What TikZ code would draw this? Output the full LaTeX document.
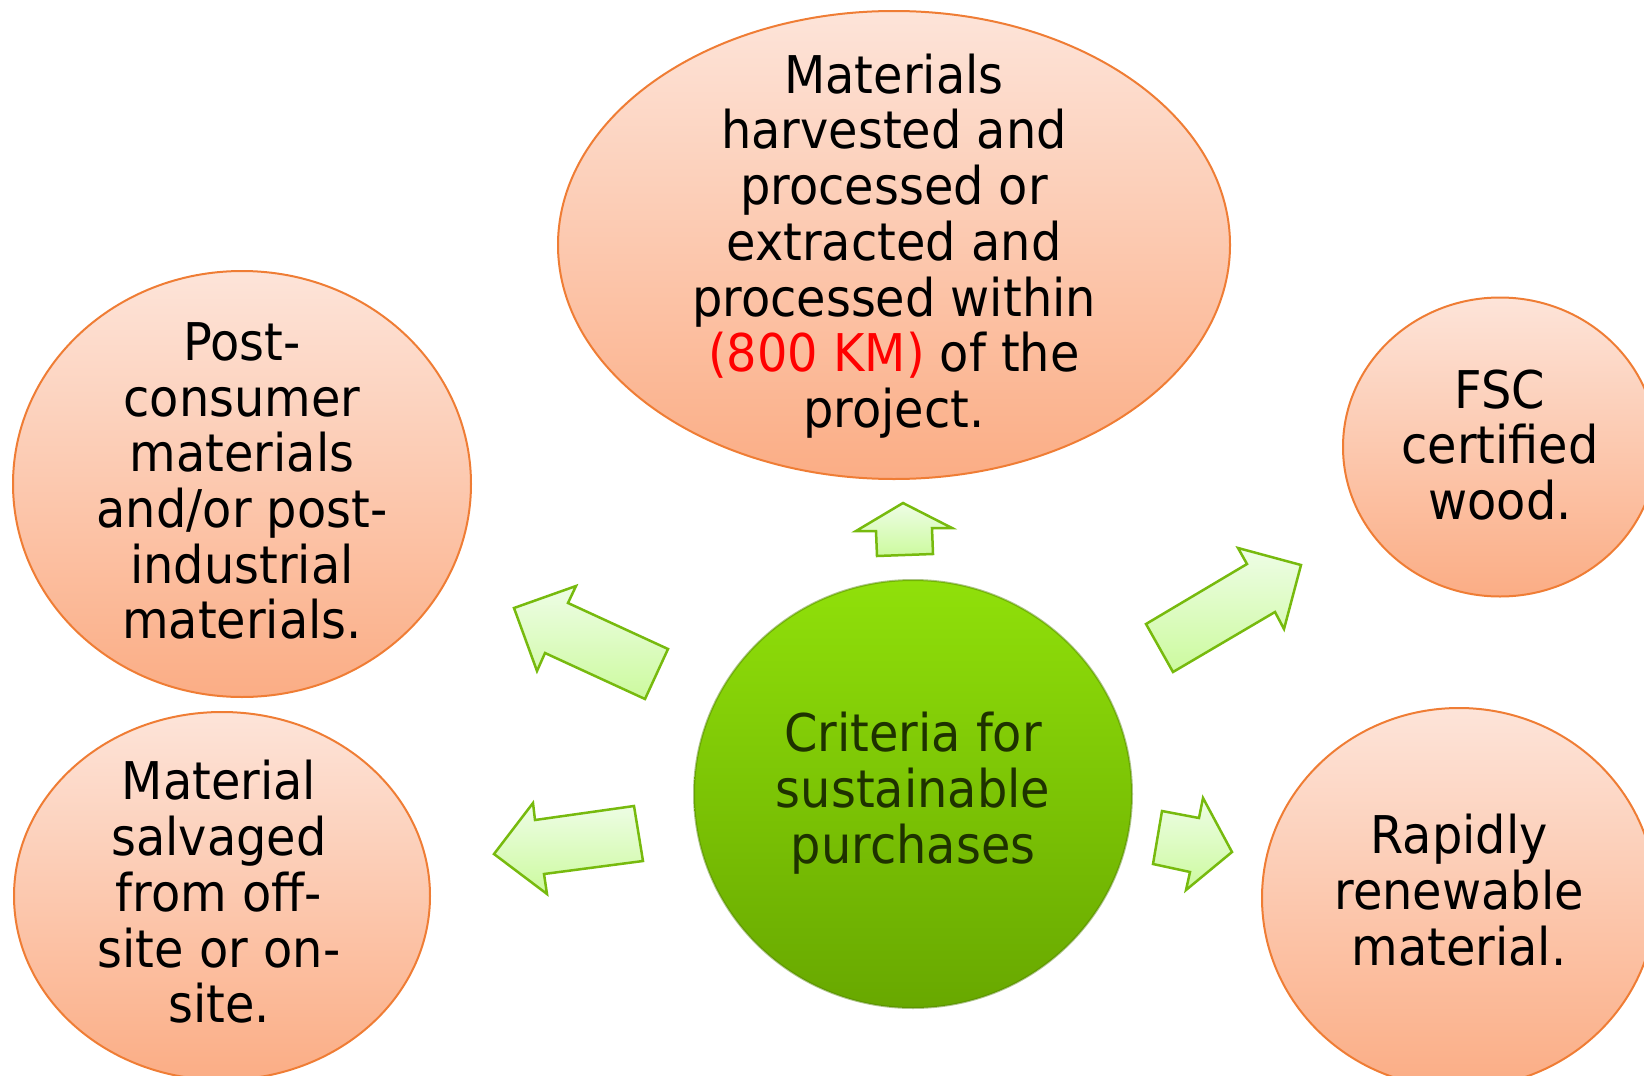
\documentclass[tikz,border=0pt]{standalone}
\usepackage{fontspec}
\setmainfont{DejaVu Sans}[FakeStretch=0.92]
\usetikzlibrary{shapes.geometric}
\definecolor{orLight}{HTML}{FDE4D9}
\definecolor{orDark}{HTML}{FBAD85}
\definecolor{orLine}{HTML}{EF7D35}
\definecolor{grTop}{HTML}{90E00A}
\definecolor{grBot}{HTML}{68A800}
\definecolor{grRim}{HTML}{4E7F00}
\definecolor{grText}{HTML}{1E3200}
\definecolor{arLight}{HTML}{EEFDE6}
\definecolor{arDark}{HTML}{CCFA9E}
\definecolor{arLine}{HTML}{77BA0E}
\definecolor{kmred}{HTML}{FF0000}
\tikzset{
  bubble/.style={ellipse, draw=orLine, line width=2pt, top color=orLight, bottom color=orDark, inner sep=0pt},
  hub/.style={ellipse, top color=grTop, bottom color=grBot, draw=grRim, draw opacity=0.45, line width=2pt, inner sep=0pt},
  lbl/.style={align=center, font=\fontsize{52}{55.7}\selectfont, inner sep=0pt},
  blockarrow/.style={draw=arLine, line width=2.5pt, line join=miter, top color=arLight, bottom color=arDark}
}
\begin{document}
\begin{tikzpicture}[x=1pt,y=-1pt]
\useasboundingbox (0,0) rectangle (1644,1076);
\clip (0,0) rectangle (1644,1076);
% bubbles
\node[bubble, minimum width=672, minimum height=468] (topb) at (894,245) {};
\node[lbl] (toptext) at (894,246) {Materials\\harvested and\\processed or\\extracted and\\processed within\\{\color{kmred}(800 KM)} of the\\project.};
\node[bubble, minimum width=458, minimum height=426] (post) at (242,484) {};
\node[lbl] (posttext) at (242,481) {Post-\\consumer\\materials\\and/or post-\\industrial\\materials.};
\node[bubble, minimum width=416, minimum height=368] (salv) at (222,896) {};
\node[lbl] (salvtext) at (219,892) {Material\\salvaged\\from off-\\site or on-\\site.};
\node[bubble, minimum width=314, minimum height=299] (fsc) at (1500,447) {};
\node[lbl] (fsctext) at (1500,445) {FSC\\certified\\wood.};
\node[bubble, minimum width=394, minimum height=380] (rapid) at (1459,898) {};
\node[lbl] (rapidtext) at (1459,890) {Rapidly\\renewable\\material.};
% hub
\node[hub, minimum width=438, minimum height=428] (hub) at (913,794) {};
\node[lbl, text=grText] (hubtext) at (913,793) {Criteria for\\sustainable\\purchases};
% block arrows
\path[blockarrow] (903,503) -- (952,528) -- (932,528) -- (933,554) -- (877,556) -- (876,531) -- (856,531) -- cycle;
\path[blockarrow] (514,608) -- (576,586) -- (568,603) -- (668,649) -- (645,699) -- (545,653) -- (537,671) -- cycle;
\path[blockarrow] (494,854) -- (533,803) -- (535,820) -- (634,806) -- (643,861) -- (544,874) -- (547,894) -- cycle;
\path[blockarrow] (1301,565) -- (1284,629) -- (1275,612) -- (1173,672) -- (1146,624) -- (1247,564) -- (1238,548) -- cycle;
\path[blockarrow] (1232,852) -- (1186,890) -- (1190,872) -- (1153,864) -- (1162,811) -- (1199,818) -- (1203,798) -- cycle;
\end{tikzpicture}
\end{document}
